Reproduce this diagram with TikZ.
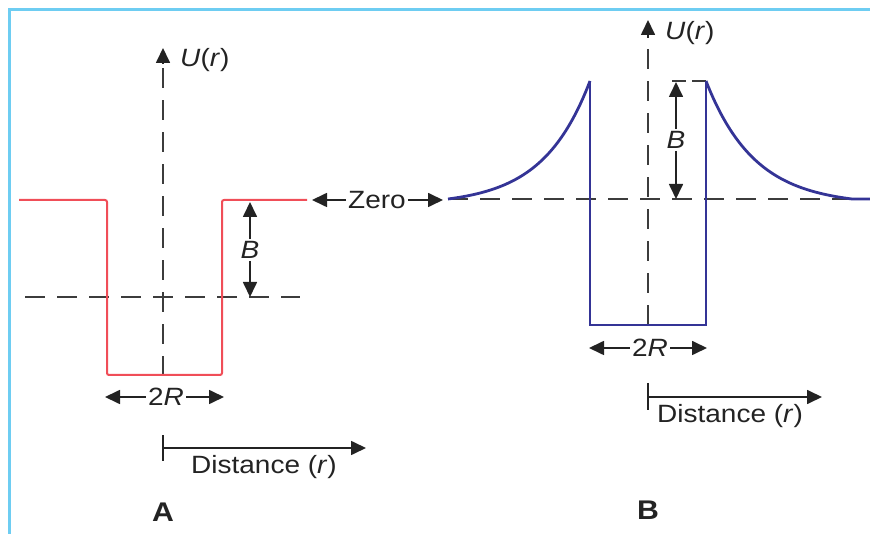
\documentclass[tikz,border=0pt]{standalone}
\usepackage{fontspec}
\setmainfont{Liberation Sans}[FakeStretch=1.12]
\usetikzlibrary{arrows.meta}
\definecolor{frameblue}{RGB}{110,205,242}
\definecolor{wellred}{RGB}{240,78,88}
\definecolor{wellblue}{RGB}{52,52,150}
\definecolor{ink}{RGB}{35,35,35}
\definecolor{dashgray}{RGB}{60,60,60}
\tikzset{
  lbl/.style={font=\fontsize{25}{29}\selectfont, text=ink, inner sep=2pt},
  panel/.style={font=\fontsize{27}{30}\selectfont\bfseries, text=ink},
  axisdash/.style={draw=dashgray, line width=1.8pt, dash pattern=on 20pt off 12pt},
  arr/.style={draw=ink, line width=1.7pt, -{Triangle[length=15pt,width=14pt]}},
  plain/.style={draw=ink, line width=1.7pt},
  redline/.style={draw=wellred, line width=2pt, rounded corners=2pt},
  blueline/.style={draw=wellblue, line width=1.8pt},
  bluecurve/.style={draw=wellblue, line width=2.8pt},
}
\begin{document}
\begin{tikzpicture}[x=1pt,y=-1pt]
\useasboundingbox (0,0) rectangle (870,534);
% frame
\draw[frameblue, line width=3pt] (9,534) -- (9,10) -- (870,10);

% ===== Panel A =====
\coordinate (aTop) at (163,48);
\coordinate (aBot) at (163,376);
\draw[axisdash] (aBot) -- (163,62);
\draw[arr] (163,64) -- (aTop);
\node[lbl, anchor=west] (UA) at (178,60) {\textit{U}(\textit{r})};
\draw[axisdash] (25,297) -- (300,297);
\draw[redline] (19,200) -- (107,200) -- (107,375) -- (222,375) -- (222,200) -- (307,200);
% B arrow
\node[lbl] (BA) at (250,250) {\textit{B}};
\coordinate (BAt) at (250,202);
\coordinate (BAb) at (250,297);
\draw[arr] (BA.north) -- (BAt);
\draw[arr] (BA.south) -- (BAb);
% 2R
\node[lbl] (RA) at (166,397) {2\textit{R}};
\coordinate (RAl) at (105,397);
\coordinate (RAr) at (224,397);
\draw[arr] (RA.west) -- (RAl);
\draw[arr] (RA.east) -- (RAr);
% distance
\coordinate (dA0) at (163,448);
\coordinate (dA1) at (366,448);
\draw[plain] (163,435) -- (163,461);
\draw[arr] (dA0) -- (dA1);
\node[lbl] (DA) at (264,467) {Distance (\textit{r})};
\node[panel] (PA) at (163,512) {A};

% Zero
\node[lbl] (zero) at (377,200) {Zero};
\coordinate (zl) at (312,200);
\coordinate (zr) at (443,200);
\draw[arr] (zero.west) -- (zl);
\draw[arr] (zero.east) -- (zr);

% ===== Panel B =====
\coordinate (bTop) at (648,20);
\draw[axisdash] (648,325) -- (648,36);
\draw[arr] (648,38) -- (bTop);
\node[lbl, anchor=west] (UB) at (663,33) {\textit{U}(\textit{r})};
\draw[axisdash] (448,199) -- (870,199);
\draw[axisdash, dash pattern=on 14pt off 6pt] (672,81) -- (706,81);
\draw[blueline] (590,81) -- (590,325) -- (706,325) -- (706,81);
\draw[bluecurve] plot[domain=448:590, samples=60] (\x,{199-118*(exp(3*(\x-448)/142)-1)/(exp(3)-1)});
\draw[bluecurve] plot[domain=706:852, samples=60] (\x,{81+118*(1-(exp(3*(852-\x)/146)-1)/(exp(3)-1))}) -- (870,199);
% B arrow
\node[lbl] (BB) at (676,140) {\textit{B}};
\coordinate (BBt) at (676,82);
\coordinate (BBb) at (676,199);
\draw[arr] (BB.north) -- (BBt);
\draw[arr] (BB.south) -- (BBb);
% 2R
\node[lbl] (RB) at (650,348) {2\textit{R}};
\coordinate (RBl) at (589,348);
\coordinate (RBr) at (707,348);
\draw[arr] (RB.west) -- (RBl);
\draw[arr] (RB.east) -- (RBr);
% distance
\coordinate (dB0) at (648,397);
\coordinate (dB1) at (822,397);
\draw[plain] (648,383) -- (648,410);
\draw[arr] (dB0) -- (dB1);
\node[lbl] (DB) at (730,416) {Distance (\textit{r})};
\node[panel] (PB) at (648,510) {B};
\end{tikzpicture}
\end{document}
